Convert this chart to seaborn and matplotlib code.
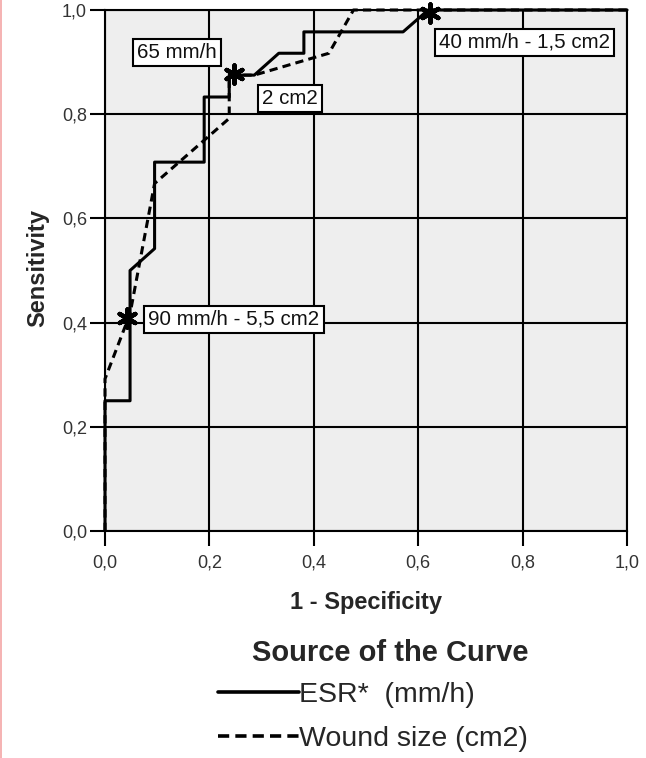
import numpy as np
import pandas as pd
import matplotlib
matplotlib.use('Agg')
import matplotlib.pyplot as plt
from matplotlib.lines import Line2D
import seaborn as sns

# ROC curve points
esr_fpr = [0.0, 0.0, 0.048, 0.048, 0.095, 0.095, 0.190, 0.190, 0.238, 0.238,
           0.286, 0.333, 0.381, 0.381, 0.571, 0.619, 1.0]
esr_tpr = [0.0, 0.250, 0.250, 0.500, 0.542, 0.708, 0.708, 0.833, 0.833, 0.875,
           0.875, 0.917, 0.917, 0.958, 0.958, 1.0, 1.0]

wound_fpr = [0.0, 0.0, 0.048, 0.095, 0.190, 0.238, 0.238, 0.286, 0.429, 0.476, 1.0]
wound_tpr = [0.0, 0.292, 0.417, 0.667, 0.750, 0.792, 0.875, 0.875, 0.917, 1.0, 1.0]

# cut-off points (stars) and their labels
cut_fpr = [0.042, 0.247, 0.623]
cut_tpr = [0.408, 0.878, 0.995]
label_text = ['90 mm/h - 5,5 cm2', '65 mm/h', '2 cm2', '40 mm/h - 1,5 cm2']
label_x = [0.247, 0.137, 0.354, 0.803]
label_y = [0.4065, 0.918, 0.830, 0.938]

tick_vals = [0.0, 0.2, 0.4, 0.6, 0.8, 1.0]
tick_labels = ['0,0', '0,2', '0,4', '0,6', '0,8', '1,0']

series_names = ['ESR*  (mm/h)', 'Wound size (cm2)']

esr = pd.DataFrame({'fpr': esr_fpr, 'tpr': esr_tpr})
wound = pd.DataFrame({'fpr': wound_fpr, 'tpr': wound_tpr})

sns.set_theme(style='ticks')
plt.rcParams['font.family'] = ['Liberation Sans', 'DejaVu Sans']

fig = plt.figure(figsize=(6.46, 7.58), dpi=100)
ax = fig.add_axes([105 / 646, 227 / 758, 522 / 646, 521 / 758])
ax.set_facecolor('#eeeeee')

sns.lineplot(data=esr, x='fpr', y='tpr', sort=False, estimator=None,
             color='black', lw=2.2, ax=ax, clip_on=False, zorder=3)
sns.lineplot(data=wound, x='fpr', y='tpr', sort=False, estimator=None,
             color='black', lw=2.2, ls=(0, (2.7, 1.7)), ax=ax, clip_on=False, zorder=3)
sns.scatterplot(x=cut_fpr, y=cut_tpr, marker=(6, 2, 0), s=170, color='black',
                linewidth=3.2, ax=ax, zorder=4, clip_on=False)

for s, x, y in zip(label_text, label_x, label_y):
    ax.text(x, y, s, ha='center', va='center', fontsize=14.8, color='#111111', zorder=5,
            bbox=dict(boxstyle='square,pad=0.2', fc='white', ec='black', lw=1.5))

ax.set_xlim(0, 1)
ax.set_ylim(0, 1)
ax.set_xticks(tick_vals)
ax.set_xticklabels(tick_labels)
ax.set_yticks(tick_vals)
ax.set_yticklabels(tick_labels)
ax.grid(True, color='black', lw=1.5)
ax.set_axisbelow(True)
for sp in ax.spines.values():
    sp.set_visible(True)
    sp.set_color('black')
    sp.set_linewidth(1.5)
ax.tick_params(axis='both', direction='out', length=11, width=1.5, color='black',
               labelsize=13, labelcolor='#333333')
ax.tick_params(axis='y', pad=2)
ax.tick_params(axis='x', pad=6)
ax.set_xlabel('')
ax.set_ylabel('')

fig.text(366 / 646, 1 - 603 / 758, '1 - Specificity', ha='center', va='center',
         fontsize=17, fontweight='bold')
fig.text(38 / 646, 1 - 268 / 758, 'Sensitivity', ha='center', va='center',
         rotation=90, fontsize=17, fontweight='bold')

# legend
fig.text(390 / 646, 1 - 653 / 758, 'Source of the Curve', ha='center', va='center',
         fontsize=21, fontweight='bold')
handles = [Line2D([], [], color='black', lw=2.6),
           Line2D([], [], color='black', lw=2.6, ls=(0, (3.1, 1.7)))]
fig.legend(handles, series_names, loc='center left',
           bbox_to_anchor=(218 / 646, 1 - 717 / 758), frameon=False,
           fontsize=20.5, handlelength=2.85, handletextpad=0.0, labelspacing=0.62,
           borderpad=0, borderaxespad=0)

fig.add_artist(Line2D([0.0015, 0.0015], [0, 1], transform=fig.transFigure,
                      color='#f4a6a6', lw=1.2))

fig.savefig('out.png', dpi=100)
